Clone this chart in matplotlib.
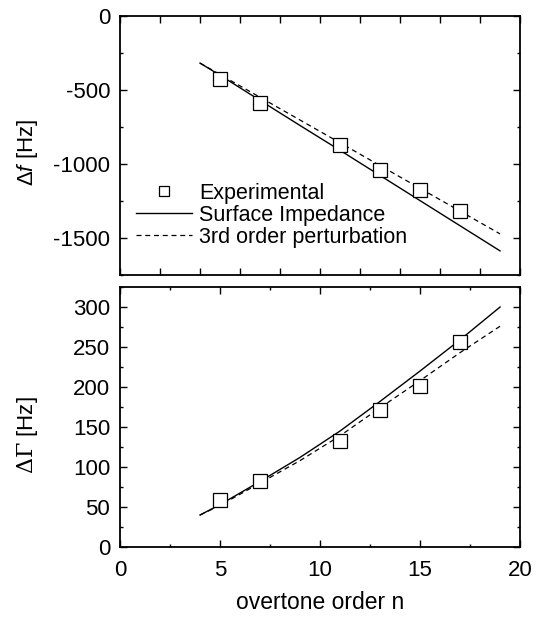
import matplotlib
matplotlib.use("Agg")
import matplotlib.pyplot as plt
from matplotlib.ticker import MultipleLocator

plt.rcParams['font.family'] = ['Liberation Sans', 'DejaVu Sans']
plt.rcParams['axes.unicode_minus'] = False
plt.rcParams['mathtext.fontset'] = 'custom'
plt.rcParams['mathtext.rm'] = 'Liberation Sans'
plt.rcParams['mathtext.it'] = 'Liberation Sans:italic'

# measured overtones
n_exp = [5, 7, 11, 13, 15, 17]
df_exp = [-426, -588, -872, -1041, -1176, -1318]
dG_exp = [59, 83, 132, 171, 201, 256]

# model curves
n_model = [4, 5, 7, 9, 11, 13, 15, 17, 19]
df_si = [-318, -400, -570, -740, -908, -1078, -1248, -1418, -1588]
df_pert = [-318, -395, -549, -703, -857, -1011, -1165, -1319, -1473]
dG_si = [40, 53, 82, 112, 145, 182, 220, 259, 300]
dG_pert = [40, 52, 80, 108, 139, 174, 208, 243, 276]

fig = plt.figure(figsize=(5.48, 6.19), dpi=100)
ax1 = fig.add_axes([0.219, 0.556, 0.730, 0.418])
ax2 = fig.add_axes([0.219, 0.1163, 0.730, 0.420])

mk = dict(marker='s', markersize=10, markerfacecolor='white',
          markeredgecolor='black', markeredgewidth=0.9, linestyle='none')

ax1.plot(n_exp, df_exp, label='Experimental', zorder=3, **mk)
ax1.plot(n_model, df_si, color='black', lw=1.0, label='Surface Impedance')
ax1.plot(n_model, df_pert, color='black', lw=0.9, ls=(0, (4, 3)),
         label='3rd order perturbation')

ax2.plot(n_exp, dG_exp, zorder=3, **mk)
ax2.plot(n_model, dG_si, color='black', lw=1.0)
ax2.plot(n_model, dG_pert, color='black', lw=0.9, ls=(0, (4, 3)))

for ax in (ax1, ax2):
    ax.set_xlim(0, 20)
    for s in ax.spines.values():
        s.set_linewidth(1.3)
    ax.tick_params(which='both', direction='in', top=True, right=True,
                   labelsize=16, width=1.0)
    ax.tick_params(which='major', length=5)
    ax.tick_params(which='minor', length=2)
    ax.tick_params(axis='y', pad=7)
    ax.tick_params(axis='x', pad=9)

ax1.set_ylim(-1750, 0)
ax1.xaxis.set_major_locator(MultipleLocator(2))
ax1.tick_params(axis='x', labelbottom=False)
ax1.yaxis.set_major_locator(MultipleLocator(500))
ax1.yaxis.set_minor_locator(MultipleLocator(250))
ax1.set_ylabel(r'$\Delta\it{f}$ [Hz]', fontsize=16)
ax1.yaxis.set_label_coords(-0.20, 0.475)

ax2.set_ylim(0, 325)
ax2.xaxis.set_major_locator(MultipleLocator(5))
ax2.xaxis.set_minor_locator(MultipleLocator(2.5))
ax2.yaxis.set_major_locator(MultipleLocator(50))
ax2.yaxis.set_minor_locator(MultipleLocator(25))
ax2.set_ylabel(r'$\mathrm{\Delta\Gamma}$ [Hz]', fontsize=16,
               math_fontfamily='dejavuserif')
ax2.yaxis.set_label_coords(-0.20, 0.43)
ax2.set_xlabel('overtone order n', fontsize=16.5)
ax2.xaxis.set_label_coords(0.5, -0.17)

ax1.legend(loc='lower left', bbox_to_anchor=(0.025, 0.08), frameon=False,
           fontsize=15.5, handlelength=2.6, handletextpad=0.3,
           labelspacing=0.05, borderpad=0, borderaxespad=0.3,
           markerscale=0.75)

fig.savefig('out.png', dpi=100)
